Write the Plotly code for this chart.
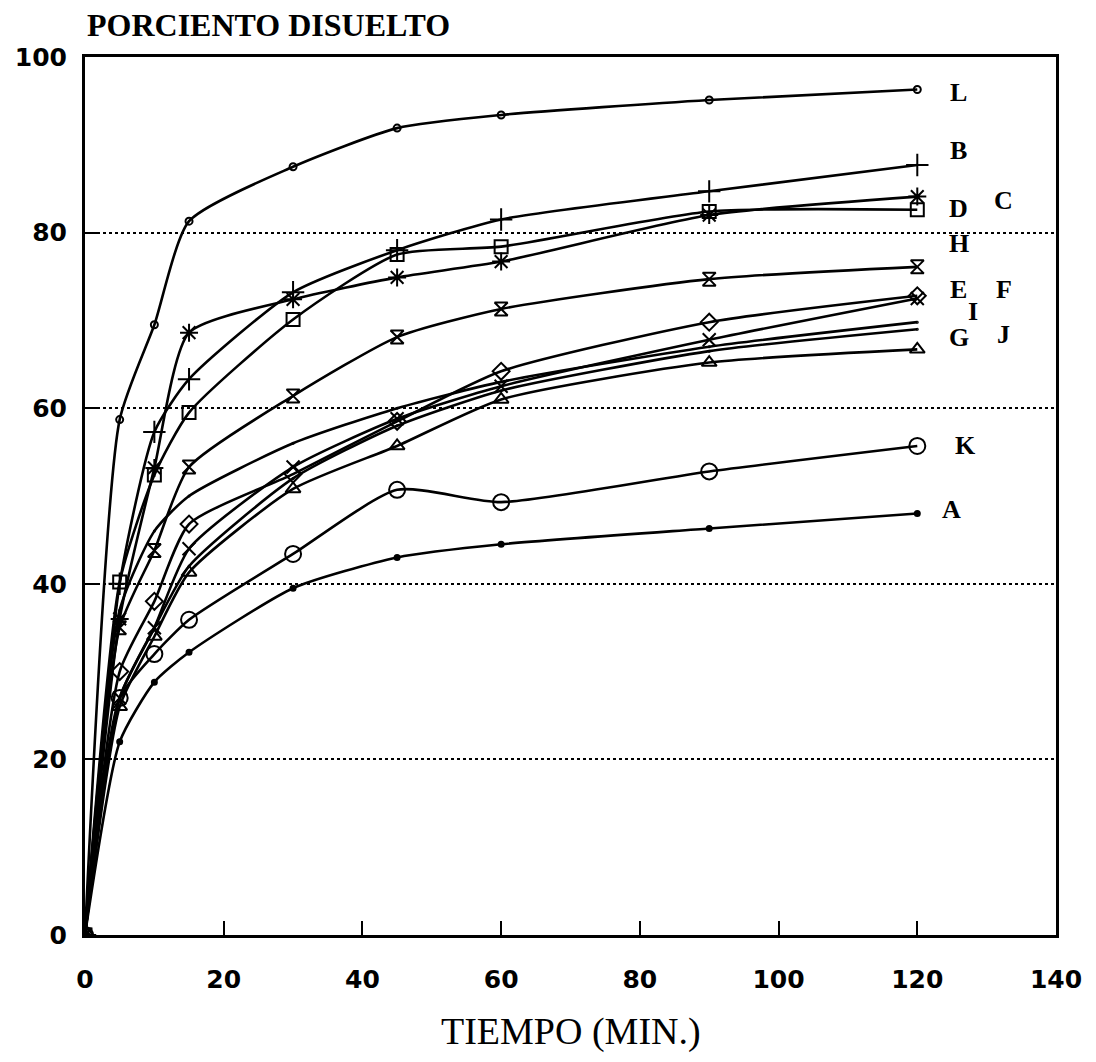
import plotly.graph_objects as go

# ---------------- data ----------------
tiempo = [0, 5, 10, 15, 30, 45, 60, 90, 120]

serie_L = [0, 58.7, 69.5, 81.3, 87.5, 91.9, 93.4, 95.1, 96.3]
serie_B = [0, 40.0, 57.3, 63.3, 73.2, 78.0, 81.5, 84.7, 87.7]
serie_C = [0, 36.0, 53.2, 68.6, 72.4, 74.9, 76.7, 82.0, 84.1]
serie_D = [0, 40.2, 52.4, 59.5, 70.1, 77.5, 78.4, 82.4, 82.6]
serie_H = [0, 35.0, 43.8, 53.3, 61.4, 68.1, 71.3, 74.7, 76.1]
serie_E = [0, 27.0, 35.0, 44.0, 53.3, 58.8, 62.5, 67.8, 72.5]
serie_F = [0, 30.0, 38.0, 46.8, 52.5, 58.5, 64.2, 69.8, 72.8]
serie_I = [0, 37.0, 46.0, 50.0, 56.0, 60.0, 63.0, 67.0, 69.8]
serie_J = [0, 27.0, 35.0, 42.0, 52.0, 58.0, 62.0, 66.5, 69.0]
serie_G = [0, 26.0, 34.0, 41.3, 50.8, 55.7, 61.0, 65.2, 66.7]
serie_K = [0, 27.0, 32.0, 35.9, 43.4, 50.7, 49.3, 52.8, 55.7]
serie_A = [0, 22.0, 28.8, 32.2, 39.5, 43.0, 44.5, 46.3, 48.0]

nombres = ["L", "B", "C", "D", "H", "E", "F", "I", "J", "G", "K", "A"]
series = [serie_L, serie_B, serie_C, serie_D, serie_H, serie_E,
          serie_F, serie_I, serie_J, serie_G, serie_K, serie_A]

x_ticks = [0, 20, 40, 60, 80, 100, 120, 140]
y_ticks = [0, 20, 40, 60, 80, 100]

# ---------------- styles ----------------
marker_style = {
    "L": dict(symbol="circle-open", size=7),
    "B": dict(symbol="cross-thin-open", size=16),
    "C": dict(symbol="asterisk-open", size=15),
    "D": dict(symbol="square-open", size=13),
    "H": dict(symbol="hourglass-open", size=13),
    "E": dict(symbol="x-thin-open", size=13),
    "F": dict(symbol="diamond-open", size=13),
    "I": dict(symbol="circle", size=1),
    "J": dict(symbol="circle", size=1),
    "G": dict(symbol="triangle-up-open", size=13),
    "K": dict(symbol="circle-open", size=16),
    "A": dict(symbol="circle", size=5),
}
# label offsets relative to last point (x in min, y in %)
label_off = {
    "L": (6, -0.3), "B": (6, 1.7), "C": (12.5, -0.4), "D": (6, 0.2),
    "H": (6, 2.7), "E": (6, 1.0), "F": (12.5, 0.7), "I": (8, 1.2),
    "J": (12.5, -0.6), "G": (6, 1.3), "K": (7, 0.0), "A": (5, 0.5),
}

fig = go.Figure()
for name, ys in zip(nombres, series):
    ms = marker_style[name]
    fig.add_trace(go.Scatter(
        x=tiempo, y=ys, mode="lines+markers", name=name,
        line=dict(color="black", width=2.6, shape="spline", smoothing=0.6),
        marker=dict(symbol=ms["symbol"], size=ms["size"], color="black",
                    line=dict(color="black", width=2)),
        showlegend=False,
    ))
    dx, dy = label_off[name]
    fig.add_annotation(
        x=tiempo[-1] + dx, y=ys[-1] + dy, text="<b>%s</b>" % name,
        showarrow=False, xanchor="center", yanchor="middle",
        font=dict(family="Liberation Serif", size=26, color="black"),
    )

fig.add_annotation(
    x=0, y=1.0, xref="paper", yref="paper", xanchor="left", yanchor="bottom",
    yshift=12, text="<b>PORCIENTO DISUELTO</b>", showarrow=False,
    font=dict(family="Liberation Serif", size=32, color="black"),
)
fig.add_annotation(
    x=0.5, y=0, xref="paper", yref="paper", xanchor="center", yanchor="middle",
    yshift=-96, text="TIEMPO (MIN.)", showarrow=False,
    font=dict(family="Liberation Serif", size=38, color="black"),
)

fig.update_xaxes(
    range=[0, 140], tickvals=x_ticks, ticktext=[str(v) for v in x_ticks],
    showgrid=False, zeroline=False, showline=True, linecolor="black",
    linewidth=3, mirror=True, ticks="inside", ticklen=14, tickwidth=2,
    tickcolor="black", ticklabelstandoff=20, automargin=False,
    tickfont=dict(family="DejaVu Sans", size=25, color="black", weight="bold"),
)
fig.update_yaxes(
    range=[0, 100], tickvals=y_ticks, ticktext=[str(v) for v in y_ticks],
    showgrid=True, gridcolor="black", gridwidth=1.5, griddash="dot",
    zeroline=False, showline=True, linecolor="black", linewidth=3,
    mirror=True, ticks="inside", ticklen=14, tickwidth=2, tickcolor="black",
    ticklabelstandoff=10, automargin=False,
    tickfont=dict(family="DejaVu Sans", size=25, color="black", weight="bold"),
)

fig.update_layout(
    width=1080, height=1046,
    margin=dict(l=77, r=32, t=49, b=119),
    paper_bgcolor="white", plot_bgcolor="white",
)

fig.write_html("out.html")
